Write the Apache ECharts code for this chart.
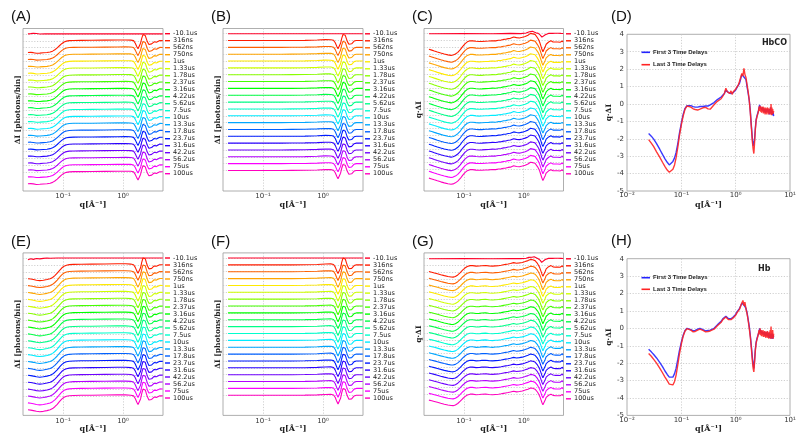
<!DOCTYPE html>
<html><head><meta charset="utf-8">
<script src="https://cdn.jsdelivr.net/npm/echarts@6/dist/echarts.min.js"></script>
<style>html,body{margin:0;padding:0;background:#fff}#c{width:800px;height:442px}</style>
</head><body><div id="c"></div><script>
// ---------------- data ----------------
const delays = ['-10.1us','316ns','562ns','750ns','1us','1.33us','1.78us','2.37us','3.16us','4.22us','5.62us','7.5us','10us','13.3us','17.8us','23.7us','31.6us','42.2us','56.2us','75us','100us'];
const delayColors = ['#ff0029','#ff1c00','#ff6000','#ffa500','#ffea00','#cfff00','#8aff00','#45ff00','#00ff00','#00ff45','#00ff89','#00ffce','#00ecff','#00a6ff','#0061ff','#001cff','#2a00ff','#6f00ff','#b400ff','#f900ff','#ff00bf'];
// stacking level (baseline) of each delay
const levels = [20,19,18,17,16,15,14,13,12,11,10,9,8,7,6,5,4,3,2,1,0];

const qA = [0.026,0.029,0.032,0.036,0.041, 0.047,0.054,0.061,0.067,0.073, 0.08,0.087,0.095,0.104,0.114,
  0.127,0.15,0.2,0.3,0.5, 0.8,1.1,1.35,1.5,1.6, 1.7,1.78,1.87,1.96,2.05,
  2.15,2.25,2.35,2.45,2.55, 2.7,2.85,3.0,3.15,3.3, 3.45,3.6,3.8,4.1,4.6];
// HbCO  dI
const shapeA = [-1.70,-1.68,-1.72,-1.80,-1.78, -1.74,-1.70,-1.62,-1.50,-1.30, -1.02,-0.72,-0.42,-0.18,-0.05,
  0.02,0.05,0.06,0.07,0.09, 0.11,0.12,0.10,0.02,-0.35, -0.85,-1.15,-1.00,-0.35,0.35,
  0.90,1.02,0.75,0.28,-0.15, -0.55,-0.65,-0.45,-0.20,-0.15, -0.28,-0.22,-0.03,0.04,0.03];
const preA = [[0.026,0],[0.029,0.04],[0.032,0.09],[0.036,0.05],[0.041,-0.02],[0.05,0.01],[0.08,0],[0.2,0.01],[1.0,0],[2.0,0.01],[4.6,0]];
// HbCO  dI (model)
const shapeB = [0,0,0,0,0, 0,0,0,0,0, 0,0,0,0,0,
  0,0,0,0.01,0.03, 0.08,0.13,0.12,0.03,-0.33, -0.88,-1.20,-1.08,-0.40,0.32,
  0.88,1.02,0.76,0.28,-0.16, -0.55,-0.66,-0.48,-0.22,-0.08, -0.02,0,0,0,0];
const preB = [[0.026,0],[4.6,0]];
// Hb  dI
const shapeE = [-2.00,-2.05,-2.12,-2.22,-2.28, -2.22,-2.12,-2.00,-1.82,-1.55, -1.20,-0.82,-0.45,-0.18,-0.04,
  0.04,0.08,0.10,0.12,0.14, 0.16,0.16,0.12,0.02,-0.36, -0.90,-1.22,-1.10,-0.42,0.36,
  1.00,1.18,0.88,0.35,-0.12, -0.57,-0.70,-0.50,-0.22,-0.15, -0.28,-0.20,-0.02,0.03,0.02];
const preE = [[0.026,-0.25],[0.029,-0.1],[0.032,-0.2],[0.036,-0.08],[0.041,-0.12],[0.047,-0.05],[0.054,0],[0.061,-0.03],[0.08,0],[0.2,0.01],[1.0,0],[4.6,0]];
// Hb  dI (model)
const shapeF = [0,0,0,0,0, 0,0,0,0,0, 0,0,0,0,0,
  0,0,0,0,0.02, 0.06,0.12,0.14,0.05,-0.33, -0.92,-1.28,-1.12,-0.44,0.35,
  0.98,1.15,0.85,0.33,-0.12, -0.57,-0.70,-0.52,-0.25,-0.10, -0.03,0,0,0,0];
const preF = [[0.026,0],[4.6,0]];
// HbCO q*dI
const shapeC = [[0.026,-1.3],[0.029,-1.42],[0.032,-1.55],[0.036,-1.7],[0.041,-1.85],[0.047,-2.0],[0.054,-2.12],[0.061,-2.2],[0.066,-2.15],[0.072,-2.0],[0.079,-1.75],[0.087,-1.35],[0.095,-0.9],[0.104,-0.5],[0.114,-0.2],[0.127,-0.05],[0.14,-0.05],[0.16,-0.12],[0.18,-0.15],[0.2,-0.14],[0.23,-0.1],[0.26,-0.08],[0.3,-0.03],[0.34,-0.05],[0.38,0.04],[0.42,0.06],[0.46,0.16],[0.5,0.18],[0.55,0.28],[0.6,0.32],[0.64,0.44],[0.68,0.52],[0.72,0.42],[0.76,0.42],[0.8,0.46],[0.85,0.38],[0.9,0.47],[0.95,0.48],[1.0,0.57],[1.06,0.6],[1.12,0.72],[1.18,0.78],[1.24,0.94],[1.3,1.05],[1.36,1.12],[1.42,0.98],[1.48,1.08],[1.55,0.9],[1.62,0.65],[1.7,0.4],[1.78,0.1],[1.86,-0.3],[1.94,-0.8],[2.02,-1.3],[2.1,-1.65],[2.16,-1.75],[2.22,-1.4],[2.3,-0.9],[2.38,-0.55],[2.46,-0.4],[2.54,-0.3],[2.62,-0.22],[2.7,-0.08],[2.78,-0.2],[2.86,-0.05],[2.94,-0.18],[3.02,-0.08],[3.1,-0.22],[3.18,-0.1],[3.26,-0.25],[3.34,-0.12],[3.42,-0.22],[3.5,-0.08],[3.58,-0.25],[3.66,-0.12],[3.74,-0.22],[3.82,-0.1],[3.9,-0.28],[3.98,-0.12],[4.06,-0.25],[4.14,-0.1],[4.22,-0.3],[4.3,-0.12],[4.38,-0.26],[4.46,-0.08],[4.54,-0.24],[4.6,-0.12]];
const preC = [[0.026,0],[0.1,0.02],[0.3,0],[0.6,0.05],[0.9,0.02],[1.1,0.1],[1.25,0.3],[1.32,0.55],[1.4,0.35],[1.5,0.45],[1.6,0.15],[1.75,0.05],[1.9,-0.2],[2.02,-0.5],[2.1,-0.65],[2.18,-0.4],[2.3,-0.15],[2.45,-0.05],[2.6,0.05],[2.8,-0.05],[3.0,0.05],[3.2,-0.08],[3.4,0.06],[3.6,-0.05],[3.8,0.08],[4.0,-0.06],[4.2,0.05],[4.4,-0.08],[4.6,0.04]];
// Hb q*dI
const shapeG = [[0.026,-0.9],[0.029,-1.0],[0.032,-1.1],[0.036,-1.22],[0.041,-1.36],[0.047,-1.5],[0.054,-1.62],[0.061,-1.7],[0.066,-1.72],[0.072,-1.62],[0.079,-1.4],[0.087,-1.05],[0.095,-0.7],[0.104,-0.38],[0.114,-0.14],[0.127,-0.02],[0.14,-0.02],[0.16,-0.1],[0.18,-0.08],[0.2,-0.03],[0.23,0.0],[0.26,-0.06],[0.3,-0.1],[0.34,-0.06],[0.38,-0.03],[0.42,0.03],[0.46,0.1],[0.5,0.16],[0.55,0.22],[0.6,0.3],[0.64,0.38],[0.68,0.42],[0.72,0.36],[0.76,0.32],[0.8,0.34],[0.85,0.38],[0.9,0.4],[0.95,0.45],[1.0,0.5],[1.06,0.58],[1.12,0.66],[1.18,0.72],[1.24,0.82],[1.3,0.9],[1.36,0.95],[1.42,0.85],[1.48,0.88],[1.55,0.72],[1.62,0.55],[1.7,0.3],[1.78,0.0],[1.86,-0.35],[1.94,-0.8],[2.02,-1.25],[2.1,-1.6],[2.16,-1.7],[2.22,-1.35],[2.3,-0.85],[2.38,-0.5],[2.46,-0.35],[2.54,-0.25],[2.62,-0.18],[2.7,-0.05],[2.78,-0.18],[2.86,-0.02],[2.94,-0.2],[3.02,-0.05],[3.1,-0.2],[3.18,-0.08],[3.26,-0.22],[3.34,-0.1],[3.42,-0.25],[3.5,-0.08],[3.58,-0.22],[3.66,-0.1],[3.74,-0.25],[3.82,-0.08],[3.9,-0.22],[3.98,-0.1],[4.06,-0.26],[4.14,-0.08],[4.22,-0.24],[4.3,-0.1],[4.38,-0.22],[4.46,-0.05],[4.54,-0.25],[4.6,-0.1]];
const preG = [[0.026,0],[0.1,0.01],[0.3,0],[0.6,0.04],[0.9,0.02],[1.1,0.08],[1.22,0.2],[1.3,0.35],[1.38,0.22],[1.5,0.28],[1.6,0.1],[1.75,0.0],[1.9,-0.25],[2.0,-0.55],[2.06,-0.65],[2.14,-0.4],[2.3,-0.12],[2.45,-0.02],[2.6,0.05],[2.8,-0.06],[3.0,0.05],[3.2,-0.07],[3.4,0.06],[3.6,-0.05],[3.8,0.07],[4.0,-0.06],[4.2,0.05],[4.4,-0.07],[4.6,0.03]];

const avgNames = ['First 3 Time Delays','Last 3 Time Delays'];
const avgColors = ['#2323ff','#ff2323'];
const firstD = [[0.025,-1.70],[0.028,-1.85],[0.031,-2.02],[0.035,-2.28],[0.04,-2.6],[0.045,-2.9],[0.05,-3.15],[0.055,-3.35],[0.06,-3.5],[0.065,-3.45],[0.07,-3.3],[0.075,-3.1],[0.08,-2.8],[0.086,-2.3],[0.092,-1.7],[0.1,-1.1],[0.108,-0.6],[0.117,-0.25],[0.127,-0.1],[0.138,-0.06],[0.15,-0.1],[0.165,-0.15],[0.18,-0.18],[0.2,-0.18],[0.22,-0.15],[0.25,-0.15],[0.28,-0.12],[0.31,-0.12],[0.34,-0.05],[0.37,0.0],[0.4,0.08],[0.43,0.15],[0.46,0.25],[0.5,0.3],[0.54,0.4],[0.58,0.5],[0.62,0.6],[0.66,0.8],[0.7,0.75],[0.74,0.65],[0.78,0.7],[0.82,0.6],[0.86,0.55],[0.9,0.65],[0.95,0.7],[1.0,0.8],[1.06,0.95],[1.12,1.05],[1.18,1.2],[1.24,1.45],[1.3,1.7],[1.36,1.75],[1.42,1.55],[1.48,1.65],[1.55,1.4],[1.62,1.0],[1.7,0.6],[1.78,0.2],[1.86,-0.4],[1.94,-1.2],[2.02,-1.9],[2.1,-2.4],[2.16,-2.5],[2.22,-2.1],[2.3,-1.4],[2.38,-0.9],[2.46,-0.7],[2.54,-0.55],[2.62,-0.4],[2.7,-0.2],[2.76,-0.05],[2.82,-0.2],[2.88,-0.1],[2.94,-0.3],[3.0,-0.2],[3.06,-0.35],[3.12,-0.2],[3.18,-0.4],[3.24,-0.25],[3.3,-0.45],[3.36,-0.3],[3.42,-0.4],[3.48,-0.25],[3.54,-0.5],[3.6,-0.3],[3.68,-0.45],[3.76,-0.35],[3.84,-0.55],[3.92,-0.3],[4.0,-0.5],[4.08,-0.35],[4.16,-0.6],[4.24,-0.3],[4.32,-0.5],[4.4,-0.2],[4.48,-0.55],[4.56,-0.35],[4.64,-0.6],[4.72,-0.4],[4.8,-0.65],[4.9,-0.5],[5.0,-0.7]];
const lastD = [[0.025,-2.05],[0.028,-2.25],[0.031,-2.45],[0.035,-2.75],[0.04,-3.05],[0.045,-3.35],[0.05,-3.6],[0.055,-3.8],[0.06,-3.92],[0.065,-3.9],[0.07,-3.75],[0.075,-3.5],[0.08,-3.1],[0.086,-2.5],[0.092,-1.85],[0.1,-1.2],[0.108,-0.7],[0.117,-0.3],[0.127,-0.12],[0.138,-0.1],[0.15,-0.18],[0.165,-0.28],[0.18,-0.32],[0.2,-0.35],[0.22,-0.3],[0.25,-0.22],[0.28,-0.2],[0.31,-0.28],[0.34,-0.3],[0.37,-0.2],[0.4,-0.05],[0.43,0.05],[0.46,0.15],[0.5,0.2],[0.54,0.3],[0.58,0.45],[0.62,0.6],[0.66,0.9],[0.7,0.7],[0.74,0.8],[0.78,0.6],[0.82,0.75],[0.86,0.55],[0.9,0.7],[0.95,0.75],[1.0,0.85],[1.06,0.9],[1.12,1.1],[1.18,1.3],[1.24,1.4],[1.3,1.75],[1.36,1.6],[1.42,2.05],[1.48,1.7],[1.55,1.5],[1.62,1.1],[1.7,0.7],[1.78,0.2],[1.86,-0.5],[1.94,-1.3],[2.02,-2.1],[2.1,-2.6],[2.16,-2.85],[2.22,-2.3],[2.3,-1.5],[2.38,-0.95],[2.46,-0.75],[2.54,-0.6],[2.62,-0.45],[2.7,-0.15],[2.76,-0.4],[2.82,-0.1],[2.88,-0.45],[2.94,-0.15],[3.0,-0.5],[3.06,-0.2],[3.12,-0.45],[3.18,-0.15],[3.24,-0.55],[3.3,-0.2],[3.36,-0.5],[3.42,-0.25],[3.48,-0.6],[3.54,-0.2],[3.6,-0.55],[3.68,-0.25],[3.76,-0.6],[3.84,-0.2],[3.92,-0.5],[4.0,-0.25],[4.08,-0.6],[4.16,-0.3],[4.24,-0.55],[4.32,-0.2],[4.4,-0.6],[4.48,0.0],[4.56,-0.65],[4.64,-0.2],[4.72,-0.6],[4.8,-0.3],[4.9,-0.55],[5.0,-0.4]];
const firstH = [[0.025,-1.2],[0.028,-1.35],[0.031,-1.5],[0.035,-1.7],[0.04,-1.95],[0.045,-2.2],[0.05,-2.45],[0.055,-2.65],[0.06,-2.8],[0.065,-2.85],[0.07,-2.8],[0.075,-2.6],[0.08,-2.3],[0.086,-1.8],[0.092,-1.3],[0.1,-0.8],[0.108,-0.4],[0.117,-0.12],[0.127,0.0],[0.138,0.0],[0.15,-0.08],[0.165,-0.15],[0.18,-0.12],[0.2,-0.05],[0.22,0.0],[0.25,-0.08],[0.28,-0.15],[0.31,-0.12],[0.34,-0.1],[0.37,-0.08],[0.4,0.0],[0.43,0.1],[0.46,0.2],[0.5,0.3],[0.54,0.4],[0.58,0.55],[0.62,0.65],[0.66,0.7],[0.7,0.6],[0.74,0.55],[0.78,0.5],[0.82,0.55],[0.86,0.6],[0.9,0.65],[0.95,0.7],[1.0,0.8],[1.06,0.95],[1.12,1.05],[1.18,1.15],[1.24,1.3],[1.3,1.45],[1.36,1.5],[1.42,1.35],[1.48,1.35],[1.55,1.15],[1.62,0.9],[1.7,0.5],[1.78,0.1],[1.86,-0.4],[1.94,-1.0],[2.02,-1.6],[2.1,-2.1],[2.16,-2.3],[2.22,-1.9],[2.3,-1.2],[2.38,-0.8],[2.46,-0.6],[2.54,-0.45],[2.62,-0.35],[2.7,-0.2],[2.76,0.0],[2.82,-0.25],[2.88,-0.1],[2.94,-0.3],[3.0,-0.15],[3.06,-0.35],[3.12,-0.2],[3.18,-0.3],[3.24,-0.15],[3.3,-0.35],[3.36,-0.2],[3.42,-0.4],[3.48,-0.2],[3.54,-0.45],[3.6,-0.25],[3.68,-0.4],[3.76,-0.2],[3.84,-0.45],[3.92,-0.3],[4.0,-0.5],[4.08,-0.25],[4.16,-0.55],[4.24,-0.3],[4.32,-0.5],[4.4,-0.35],[4.48,-0.6],[4.56,-0.3],[4.64,-0.55],[4.72,-0.3],[4.8,-0.6],[4.9,-0.4],[5.0,-0.5]];
const lastH = [[0.025,-1.45],[0.028,-1.6],[0.031,-1.78],[0.035,-2.0],[0.04,-2.28],[0.045,-2.55],[0.05,-2.8],[0.055,-3.0],[0.06,-3.2],[0.065,-3.28],[0.07,-3.25],[0.075,-3.05],[0.08,-2.7],[0.086,-2.1],[0.092,-1.5],[0.1,-0.9],[0.108,-0.45],[0.117,-0.15],[0.127,-0.02],[0.138,-0.02],[0.15,-0.1],[0.165,-0.2],[0.18,-0.18],[0.2,-0.1],[0.22,-0.05],[0.25,-0.12],[0.28,-0.2],[0.31,-0.18],[0.34,-0.15],[0.37,-0.12],[0.4,-0.05],[0.43,0.05],[0.46,0.15],[0.5,0.25],[0.54,0.35],[0.58,0.5],[0.62,0.6],[0.66,0.65],[0.7,0.55],[0.74,0.5],[0.78,0.45],[0.82,0.5],[0.86,0.55],[0.9,0.6],[0.95,0.65],[1.0,0.75],[1.06,0.9],[1.12,1.0],[1.18,1.1],[1.24,1.3],[1.3,1.4],[1.36,1.6],[1.42,1.3],[1.48,1.5],[1.55,1.1],[1.62,0.85],[1.7,0.45],[1.78,0.0],[1.86,-0.5],[1.94,-1.1],[2.02,-1.8],[2.1,-2.3],[2.16,-2.5],[2.22,-2.0],[2.3,-1.3],[2.38,-0.85],[2.46,-0.65],[2.54,-0.5],[2.62,-0.4],[2.7,-0.1],[2.76,-0.35],[2.82,0.0],[2.88,-0.4],[2.94,-0.1],[3.0,-0.45],[3.06,-0.15],[3.12,-0.4],[3.18,-0.1],[3.24,-0.5],[3.3,-0.2],[3.36,-0.45],[3.42,-0.15],[3.48,-0.5],[3.54,-0.2],[3.6,-0.55],[3.68,-0.2],[3.76,-0.5],[3.84,-0.15],[3.92,-0.55],[4.0,-0.25],[4.08,-0.6],[4.16,-0.2],[4.24,-0.5],[4.32,-0.1],[4.4,-0.6],[4.48,0.1],[4.56,-0.6],[4.64,-0.2],[4.72,-0.55],[4.8,-0.1],[4.9,-0.6],[5.0,-0.3]];
const avgYTicks = [-5,-4,-3,-2,-1,0,1,2,3,4];

// ---------------- layout ----------------
const zip = (q, v) => q.map((x, k) => [x, v[k]]);
const R2 = 224.4;
const stackPanels = [
  {label:'(A)', shape: zip(qA, shapeA), pre: preA, gl:23,  gt:28.5, gw:140,   ymin:-2.75, ymax:20.78, yname:'ΔI [photons/bin]', ll:165, lt:30.2, lh:6.92},
  {label:'(B)', shape: zip(qA, shapeB), pre: preB, gl:223, gt:28.5, gw:140,   ymin:-3.0,  ymax:20.76, yname:'ΔI [photons/bin]', ll:365, lt:30.3, lh:6.85},
  {label:'(C)', shape: shapeC,          pre: preC, gl:424, gt:28.5, gw:139.5, ymin:-3.2,  ymax:20.77, yname:'q·ΔI',            ll:566, lt:30.3, lh:6.78},
  {label:'(E)', shape: zip(qA, shapeE), pre: preE, gl:23,  gt:28.5+R2, gw:140,   ymin:-2.81, ymax:20.74, yname:'ΔI [photons/bin]', ll:165, lt:254.5, lh:6.9},
  {label:'(F)', shape: zip(qA, shapeF), pre: preF, gl:223, gt:28.5+R2, gw:140,   ymin:-2.93, ymax:20.74, yname:'ΔI [photons/bin]', ll:365, lt:254.6, lh:6.87},
  {label:'(G)', shape: shapeG,          pre: preG, gl:424, gt:28.5+R2, gw:139.5, ymin:-3.16, ymax:20.86, yname:'q·ΔI',            ll:566, lt:255.3, lh:6.77}
];
const avgPanels = [
  {label:'(D)', tag:'HbCO', series:[firstD, lastD], gt:34.3, lt:48.8, gap:5.4, tagTop:38.5, tagRight:13},
  {label:'(H)', tag:'Hb',   series:[firstH, lastH], gt:34.3+R2, lt:274.2, gap:4.6, tagTop:265.3, tagRight:29.5}
];

const sup = {'-':'⁻','0':'⁰','1':'¹','2':'²','3':'³','4':'⁴','5':'⁵','6':'⁶','7':'⁷','8':'⁸','9':'⁹'};
const logLabel = v => '10' + String(Math.round(Math.log10(v))).split('').map(c => sup[c]).join('');
const axisNameStyle = {fontFamily:'DejaVu Serif', fontWeight:'bold', fontSize:8, color:'#222'};
const gridLine = {show:true, lineStyle:{color:'#c4c4c4', type:[1.2,1.6], width:0.8}};

const grid = [], xAxis = [], yAxis = [], series = [], legend = [], title = [];
const panelTitle = (text, left, top) => ({text, left, top, padding:0, textStyle:{fontFamily:'Liberation Sans', fontWeight:'normal', fontSize:15, color:'#111'}});

stackPanels.forEach((p, gi) => {
  grid.push({left:p.gl, top:p.gt, width:p.gw, height:162.5, show:true, borderColor:'#9a9a9a', borderWidth:0.8, containLabel:false});
  xAxis.push({type:'log', logBase:10, gridIndex:gi, min:0.0215, max:4.64,
    axisLine:{show:false}, axisTick:{show:false},
    axisLabel:{formatter:logLabel, fontSize:7, color:'#333', margin:2, showMinLabel:false, showMaxLabel:false},
    splitLine:Object.assign({showMinLine:false, showMaxLine:false}, gridLine),
    name:'q[Å⁻¹]', nameLocation:'middle', nameGap:10, nameTextStyle:axisNameStyle});
  yAxis.push({type:'value', gridIndex:gi, min:p.ymin, max:p.ymax,
    axisLine:{show:false}, axisTick:{show:false, customValues:levels}, axisLabel:{show:false},
    splitLine:gridLine,
    name:p.yname, nameLocation:'middle', nameRotate:90, nameGap:1, nameTextStyle:Object.assign({}, axisNameStyle, {fontSize:7.5})});
  delays.forEach((d, i) => {
    const src = i === 0 ? p.pre : p.shape;
    series.push({type:'line', name:d, xAxisIndex:gi, yAxisIndex:gi, symbol:'none', silent:true,
      color:delayColors[i], lineStyle:{width:1.1, color:delayColors[i]},
      data: src.map(([q, v]) => [q, v + levels[i]])});
  });
  legend.push({data:delays, orient:'vertical', left:p.ll, top:p.lt, padding:0, itemGap:0,
    itemWidth:5, itemHeight:1.4, icon:'rect', selectedMode:false,
    textStyle:{fontSize:6.5, lineHeight:p.lh, color:'#222', fontFamily:'DejaVu Sans', padding:[0,0,0,-2]}});
  title.push(panelTitle(p.label, p.gl - 12, p.gt - 19));
});

avgPanels.forEach((p, k) => {
  const gi = stackPanels.length + k;
  grid.push({left:627, top:p.gt, width:163, height:156.7, show:true, borderColor:'#9a9a9a', borderWidth:0.8, containLabel:false});
  xAxis.push({type:'log', logBase:10, gridIndex:gi, min:0.01, max:10,
    axisLine:{show:false}, axisTick:{show:false},
    axisLabel:{formatter:logLabel, fontSize:7, color:'#333', margin:1},
    splitLine:Object.assign({showMinLine:false, showMaxLine:false}, gridLine),
    name:'q[Å⁻¹]', nameLocation:'middle', nameGap:10, nameTextStyle:axisNameStyle});
  yAxis.push({type:'value', gridIndex:gi, min:-5, max:4, interval:1,
    axisLine:{show:false}, axisTick:{show:false},
    axisLabel:{fontSize:7, color:'#333', margin:3, customValues:avgYTicks},
    splitLine:Object.assign({showMinLine:false, showMaxLine:false}, gridLine),
    name:'q·ΔI', nameLocation:'middle', nameRotate:90, nameGap:8, nameTextStyle:Object.assign({}, axisNameStyle, {fontSize:7.5})});
  p.series.forEach((data, j) => {
    series.push({type:'line', name:avgNames[j], xAxisIndex:gi, yAxisIndex:gi, symbol:'none', silent:true,
      color:avgColors[j], lineStyle:{width:1.4, color:avgColors[j], opacity:0.9}, data});
  });
  legend.push({data:avgNames, orient:'vertical', left:641.5, top:p.lt, padding:0, itemGap:p.gap,
    itemWidth:8.5, itemHeight:1.6, icon:'rect', selectedMode:false,
    textStyle:{fontSize:6, lineHeight:7, color:'#222', fontFamily:'Liberation Sans', fontWeight:'bold', padding:[0,0,0,-2]}});
  title.push(panelTitle(p.label, 611, p.gt - 25));
  title.push({text:p.tag, right:p.tagRight, top:p.tagTop, padding:0, textStyle:{fontFamily:'DejaVu Sans', fontWeight:'bold', fontSize:8, color:'#222'}});
});

const chart = echarts.init(document.getElementById('c'));
chart.setOption({animation:false, backgroundColor:'#fff', textStyle:{fontFamily:'DejaVu Sans'},
  title, legend, grid, xAxis, yAxis, series});
</script></body></html>
